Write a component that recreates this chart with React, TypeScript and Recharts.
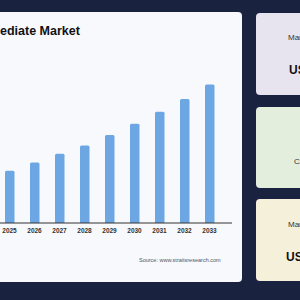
import { BarChart, Bar, XAxis, YAxis } from "recharts";

const years = ["2025", "2026", "2027", "2028", "2029", "2030", "2031", "2032", "2033"];
const marketSize = [5.23, 6.06, 6.93, 7.76, 8.8, 9.93, 11.13, 12.4, 13.86];

const data = years.map((year, i) => ({ year, value: marketSize[i] }));

const NAVY = "#19223f";
const FONT = "'Liberation Sans', Arial, sans-serif";

function SideCard({ top, height, bg, children }: { top: number; height: number; bg: string; children?: React.ReactNode }) {
  return (
    <div
      style={{
        position: "absolute",
        left: 256,
        top,
        width: 80,
        height,
        background: bg,
        borderRadius: 4,
      }}
    >
      {children}
    </div>
  );
}

function Label({ left, top, size, bold, color, text }: { left: number; top: number; size: number; bold?: boolean; color: string; text: string }) {
  return (
    <div
      style={{
        position: "absolute",
        left,
        top,
        fontSize: size,
        fontWeight: bold ? 700 : 400,
        color,
        lineHeight: 1,
        whiteSpace: "nowrap",
      }}
    >
      {text}
    </div>
  );
}

export default function App() {
  return (
    <div
      style={{
        position: "fixed",
        left: 0,
        top: 0,
        width: 300,
        height: 300,
        background: NAVY,
        overflow: "hidden",
        fontFamily: FONT,
      }}
    >
      <div
        style={{
          position: "absolute",
          left: -60,
          top: 12,
          width: 302,
          height: 270,
          background: "#f8f9fd",
          borderRadius: 4,
        }}
      />
      <Label left={0} top={25} size={12.5} bold color="#111" text="ediate Market" />
      <div style={{ position: "absolute", left: -3.5, top: 63.3 }}>
        <BarChart width={235} height={180} data={data} margin={{ top: 0, right: 0, left: 0, bottom: 0 }}>
          <XAxis
            dataKey="year"
            height={20}
            padding={{ left: 0, right: 10 }}
            tickLine={false}
            tickSize={0}
            tickMargin={5}
            axisLine={{ stroke: "#333", strokeWidth: 1 }}
            tick={{ fontSize: 6.5, fontWeight: 700, fill: "#333", fontFamily: FONT }}
          />
          <YAxis hide domain={[0, 16]} />
          <Bar dataKey="value" fill="#6ca7e4" barSize={9.5} radius={[1.5, 1.5, 0, 0]} isAnimationActive={false} />
        </BarChart>
      </div>
      <Label left={139} top={258} size={5.5} color="#555" text="Source: www.straitsresearch.com" />

      <SideCard top={13} height={82} bg="#e7e3ef" />
      <SideCard top={107} height={81} bg="#e3eedd" />
      <SideCard top={199} height={82} bg="#f5f0da" />
      <Label left={288} top={34} size={8} color="#333" text="Market Size" />
      <Label left={289} top={64} size={12} bold color="#111" text="USD" />
      <Label left={294} top={158} size={8} color="#333" text="CAGR" />
      <Label left={288} top={221} size={8} color="#333" text="Market Size" />
      <Label left={286} top={251} size={12} bold color="#111" text="USD" />
    </div>
  );
}
